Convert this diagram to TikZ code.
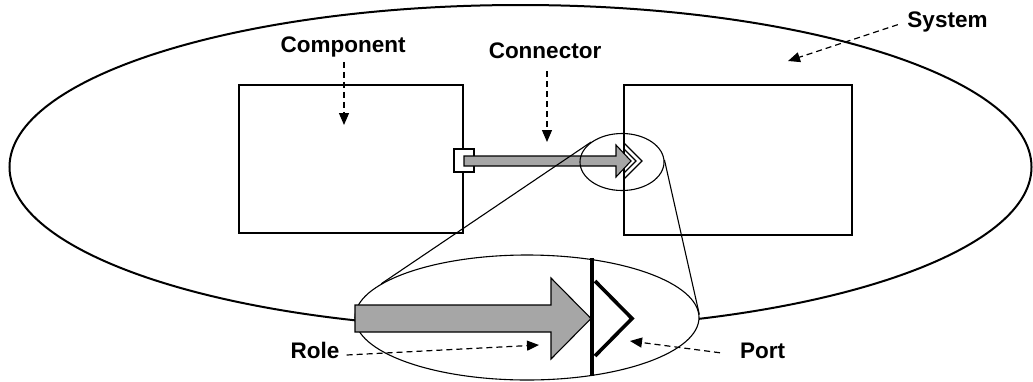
\documentclass[tikz,border=0pt]{standalone}
\usepackage{fontspec}
\setmainfont{Liberation Sans}
\usetikzlibrary{shapes.geometric,arrows.meta}
\definecolor{arrowgray}{RGB}{166,166,166}
\tikzset{
  lbl/.style={font=\fontsize{22.5}{22.5}\selectfont\bfseries, inner sep=0pt, anchor=base},
  dasharrow/.style={line width=1.2pt, dash pattern=on 6pt off 4pt, -{Triangle[length=12pt,width=10pt]}},
  thinline/.style={line width=1.1pt},
  boxstyle/.style={draw, thinline, inner sep=0pt},
  ovalstyle/.style={ellipse, draw, thinline, inner sep=0pt},
  grayarrow/.style={thinline, fill=arrowgray, line join=miter},
  thickline/.style={line width=3.6pt, line join=miter}
}
\begin{document}
\begin{tikzpicture}[x=1pt,y=-1pt]
\useasboundingbox (0,0) rectangle (1033,381);
% system
\node[ovalstyle, line width=2pt, minimum width=1022pt, minimum height=324pt] (sys) at (520.5,167) {};
% components
\node[boxstyle, minimum width=224pt, minimum height=148pt] (compA) at (351,159) {};
\node[boxstyle, minimum width=228pt, minimum height=150pt] (compB) at (738,160) {};
% small port and connector
\node[boxstyle, fill=white, minimum width=20pt, minimum height=23pt] (portA) at (464,160.5) {};
\draw[grayarrow] (464,156) -- (616,156) -- (616,145) -- (631,161) -- (616,177) -- (616,166) -- (464,166) -- cycle;
\draw[thinline, line join=miter] (624,143) -- (642,161) -- (624,179) -- (624,173) -- (636,161) -- (624,149) -- cycle;
% small zoom ellipse
\node[ovalstyle, minimum width=84pt, minimum height=57pt] (zoomS) at (622,162) {};
% big zoom ellipse
\node[ovalstyle, fill=white, minimum width=344pt, minimum height=125pt] (zoomB) at (527,317.5) {};
\draw[thinline] (zoomS.147) -- (zoomB.167);
\draw[thinline] (zoomS.3) -- (zoomB.1);
% enlarged role and port
\draw[grayarrow] (355,305) -- (551,305) -- (551,278) -- (591,318.5) -- (551,359) -- (551,332) -- (355,332) -- cycle;
\draw[thickline] (592,258) -- (592,376);
\draw[thickline] (595,281) -- (632,318.5) -- (595,356);
% labels
\node[lbl] (clab) at (343,52) {Component};
\node[lbl] (nlab) at (545,58) {Connector};
\node[lbl] (slab) at (947.5,27) {System};
\node[lbl] (rlab) at (315,358) {Role};
\node[lbl] (plab) at (762.5,358) {Port};
% arrow tips
\coordinate (ctip) at (344,125);
\coordinate (ntip) at (547,142);
\coordinate (stip) at (788,61);
\coordinate (rtip) at (539,345);
\coordinate (ptip) at (630,341);
\draw[dasharrow, shorten <=5pt] (clab.south -| ctip) -- (ctip);
\draw[dasharrow, shorten <=13pt] (nlab.south -| ntip) -- (ntip);
\draw[dasharrow, shorten <=10pt] (slab.west) -- (stip);
\draw[dasharrow, shorten <=7pt] (rlab.mid east) -- (rtip);
\draw[dasharrow, shorten <=20pt] (plab.mid west) -- (ptip);
\end{tikzpicture}
\end{document}
